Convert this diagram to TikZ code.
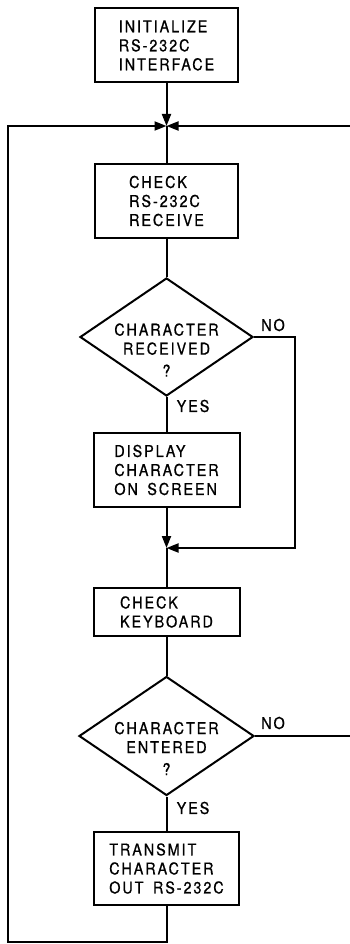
\documentclass[tikz,border=0pt]{standalone}
\usepackage{fontspec}
\setmainfont{TeX Gyre Heros}[LetterSpace=12,FakeBold=0.8,FakeStretch=0.88,WordSpace=1.6]
\usetikzlibrary{shapes.geometric,arrows.meta}
\begin{document}
\begin{tikzpicture}[x=1pt,y=-1pt,line width=2pt,
  txt/.style={font=\fontsize{16.3}{19}\selectfont},
  box/.style={txt,draw,minimum width=143pt,minimum height=74pt,align=left,inner sep=0pt},
  dia/.style={draw,diamond,minimum width=173pt,minimum height=118pt,inner sep=0pt},
  dtext/.style={txt,align=center,inner sep=0pt},
  lbl/.style={txt,inner sep=0pt},
  arr/.style={-{Triangle[length=12pt,width=9pt]}}]
\fill[white] (0,0) rectangle (349,944);
\useasboundingbox (0,0) rectangle (349,944);
% nodes
\node[box] (init) at (166.5,45.5) {INITIALIZE\\RS-232C\\INTERFACE};
\coordinate (j1) at (166.5,126);
\node[box] (chk) at (166.5,201) {CHECK\\RS-232C\\RECEIVE};
\node[dia] (d1) at (166.5,337) {};
\node[dtext] (d1t) at (166.5,350) {CHARACTER\\RECEIVED\\[3pt]?};
\node[box,minimum width=146pt] (disp) at (166.5,470) {DISPLAY\\CHARACTER\\ON SCREEN};
\coordinate (j2) at (166.5,548);
\node[box,minimum width=146pt,minimum height=48pt] (kbd) at (166.5,612) {CHECK\\KEYBOARD};
\node[dia,minimum width=175pt,minimum height=119pt] (d2) at (166.5,736) {};
\node[dtext] (d2t) at (166.5,748.5) {CHARACTER\\ENTERED\\[3pt]?};
\node[box,minimum width=145pt,minimum height=73pt] (tx) at (166.5,868.5) {TRANSMIT\\CHARACTER\\OUT RS-232C};
% labels
\node[lbl] (no1) at (273,325) {NO};
\node[lbl] (yes1) at (193,406) {YES};
\node[lbl] (no2) at (273,723) {NO};
\node[lbl] (yes2) at (193,808) {YES};
% routing points
\coordinate (r1) at (295,548);
\coordinate (lb) at (8,942);
\coordinate (rt) at (351,126);
% connectors
\draw[arr] (init.south) -- (j1);
\draw (j1) -- (chk.north);
\draw (chk.south) -- (d1.north);
\draw (d1.south) -- (disp.north);
\draw[arr] (disp.south) -- (j2);
\draw[arr] (d1.east) -| (r1) -- (j2);
\draw (j2) -- (kbd.north);
\draw (kbd.south) -- (d2.north);
\draw (d2.south) -- (tx.north);
\draw[arr] (tx.south) |- (lb) |- (j1);
\draw[arr] (d2.east) -| (rt) -- (j1);
\end{tikzpicture}
\end{document}
